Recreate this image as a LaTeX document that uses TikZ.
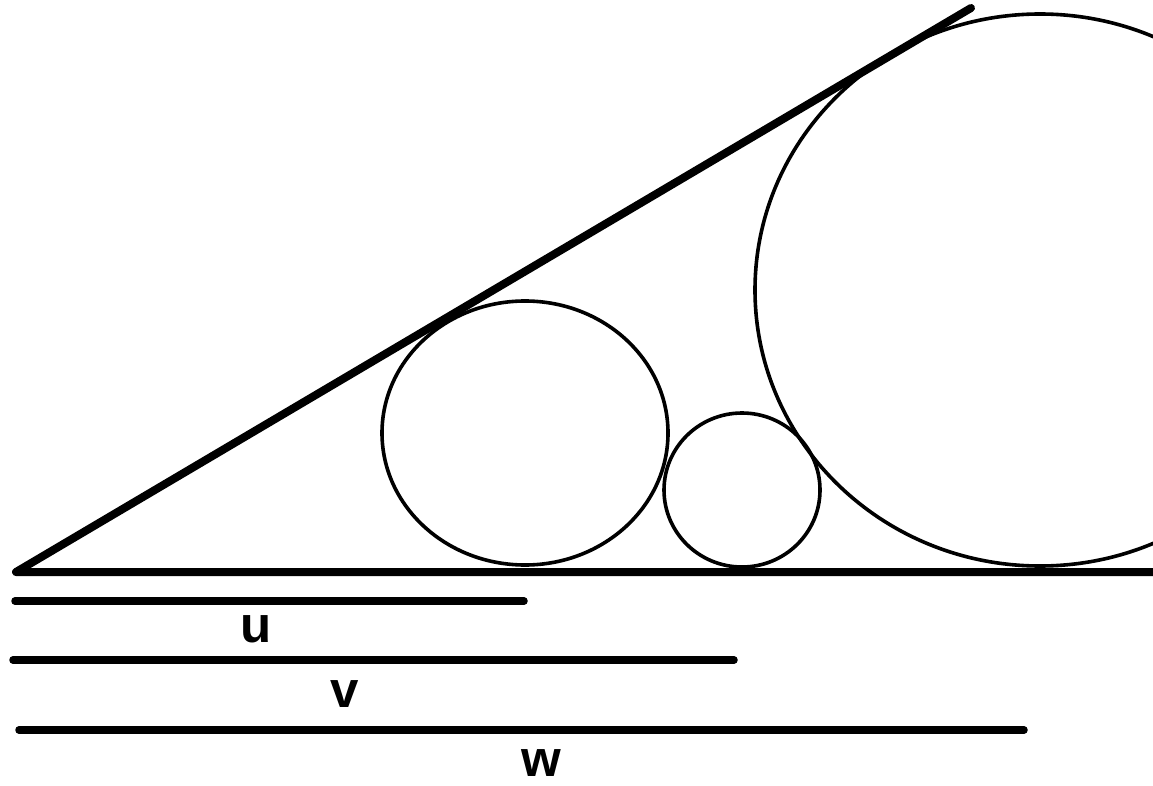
\documentclass[tikz,border=0pt]{standalone}
\usepackage{fontspec}
\setmainfont{Liberation Sans}
\begin{document}
\begin{tikzpicture}[x=1pt,y=-1pt,
  thickline/.style={line width=7.5pt,line cap=round},
  ring/.style={line width=3.6pt},
  lbl/.style={font=\fontsize{51}{51}\selectfont\bfseries,inner sep=0pt}]
\useasboundingbox (0,0) rectangle (1153,786);
\clip (0,0) rectangle (1153,786);
% key points
\coordinate (apex) at (16,572);
\coordinate (top) at (971,8);
\coordinate (baseR) at (1160,572);
\coordinate (u0) at (15,601);
\coordinate (u1) at (524,601);
\coordinate (v0) at (13,660);
\coordinate (v1) at (734,660);
\coordinate (w0) at (19,730);
\coordinate (w1) at (1024,730);
% circles
\draw[ring] (525,433) ellipse [x radius=143, y radius=132];
\draw[ring] (742,490) ellipse [x radius=78, y radius=77];
\draw[ring] (1040,290) ellipse [x radius=285, y radius=276];
% triangle sides
\draw[line width=8pt,line cap=round,line join=round] (top) -- (apex) -- (baseR);
% length bars
\draw[thickline] (u0) -- (u1);
\draw[thickline] (v0) -- (v1);
\draw[thickline] (w0) -- (w1);
% labels
\node[lbl] (lu) at (256,629) {u};
\node[lbl] (lv) at (345,694) {v};
\node[lbl] (lw) at (541,763) {w};
\end{tikzpicture}
\end{document}
